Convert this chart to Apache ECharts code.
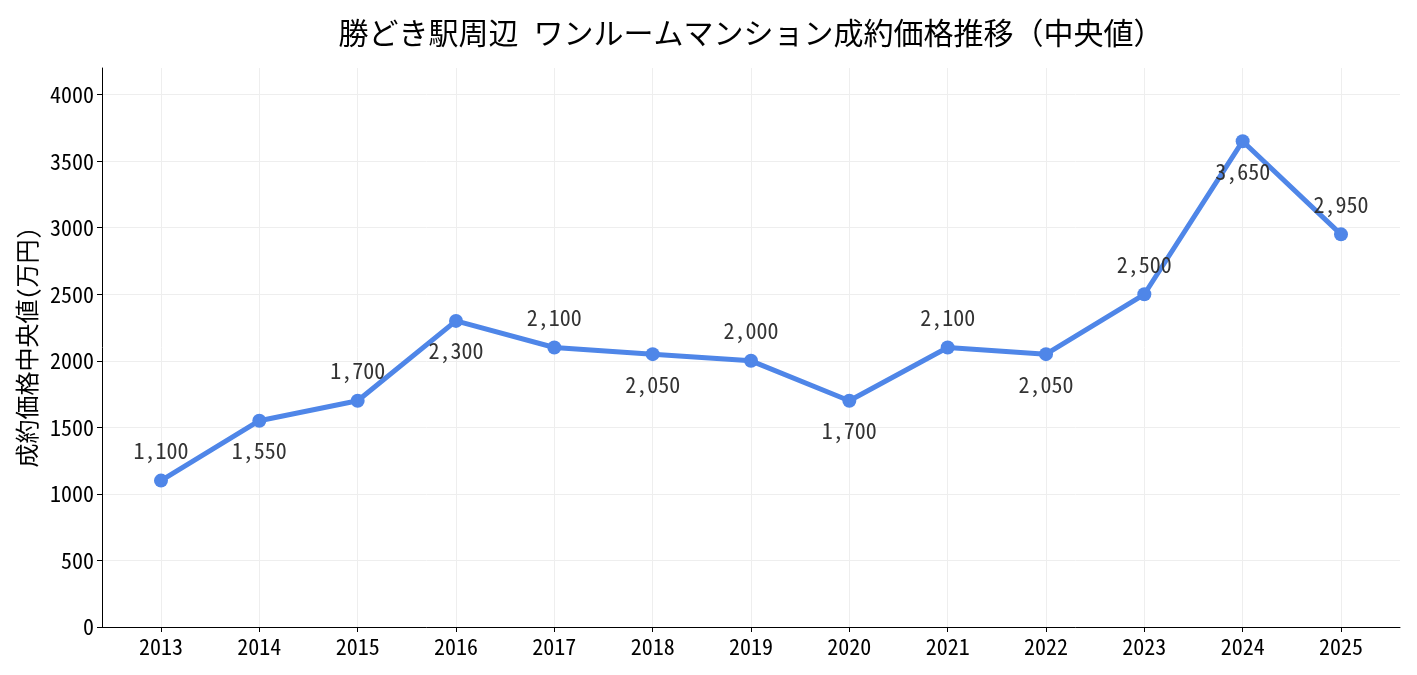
<!DOCTYPE html>
<html><head><meta charset="utf-8">
<script src="https://cdn.jsdelivr.net/npm/echarts@6/dist/echarts.min.js"></script>
<style>html,body{margin:0;padding:0;background:#fff}#c{width:1417px;height:675px}</style>
</head><body><div id="c"></div>
<script>
const years = [2013,2014,2015,2016,2017,2018,2019,2020,2021,2022,2023,2024,2025];
const prices = [1100,1550,1700,2300,2100,2050,2000,1700,2100,2050,2500,3650,2950];
const labelSide = ['top','bottom','top','bottom','top','bottom','top','bottom','top','bottom','top','bottom','top'];
const yTicks = [0,500,1000,1500,2000,2500,3000,3500,4000];
const titleText = '勝どき駅周辺 ワンルームマンション成約価格推移（中央値）';
const yName = '成約価格中央値(万円)';
const FONT = '"Noto Sans Mono CJK JP","Noto Sans CJK JP",sans-serif';

const chart = echarts.init(document.getElementById('c'));
chart.setOption({
  animation:false,
  textStyle:{fontFamily:FONT},
  title:{text:titleText,left:746,top:13,textAlign:'center',textStyle:{fontFamily:FONT,fontSize:30,fontWeight:'normal',color:'#000'}},
  grid:{left:102,right:17,top:68,bottom:48},
  xAxis:{type:'value',min:2012.4,max:2025.6,
    axisLine:{lineStyle:{color:'#000',width:1}},
    axisTick:{customValues:years,length:5,lineStyle:{color:'#000'}},
    axisLabel:{customValues:years,fontSize:22,color:'#000',margin:9,fontFamily:FONT,formatter:v=>String(v)},
    splitLine:{show:true,lineStyle:{color:'#eeeeee',width:1}}},
  yAxis:{type:'value',min:0,max:4200,
    name:yName,nameLocation:'middle',nameGap:60,nameTextStyle:{fontSize:24,color:'#000',fontFamily:FONT},
    axisLine:{show:true,lineStyle:{color:'#000',width:1}},
    axisTick:{show:true,customValues:yTicks,length:5,lineStyle:{color:'#000'}},
    axisLabel:{customValues:yTicks,fontSize:22,color:'#000',margin:8,fontFamily:FONT,formatter:v=>String(v)},
    splitLine:{show:true,lineStyle:{color:'#eeeeee',width:1}}},
  series:[{type:'line',
    data:years.map((y,i)=>({value:[y,prices[i]],label:{position:labelSide[i]}})),
    lineStyle:{color:'#4f86e8',width:5},
    itemStyle:{color:'#4f86e8'},
    symbol:'circle',symbolSize:14,
    label:{show:true,distance:12,fontSize:22,color:'#333',fontFamily:FONT,
      formatter:p=>p.value[1].toLocaleString('en-US')}
  }]
});
</script></body></html>
